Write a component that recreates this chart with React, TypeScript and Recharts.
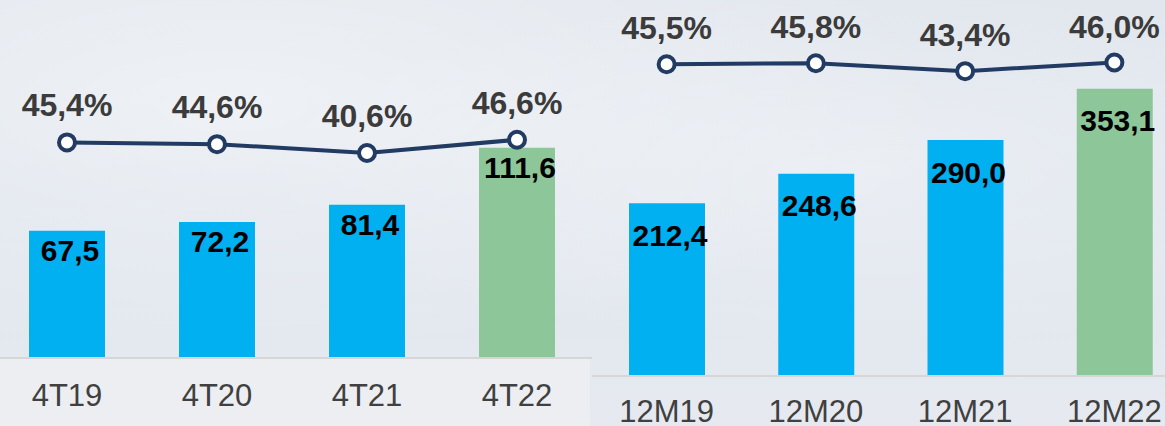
import { ComposedChart, Bar, Line, XAxis, YAxis, Cell, LabelList } from 'recharts'

const quarterCats = ['4T19', '4T20', '4T21', '4T22']
const quarterValues = [67.5, 72.2, 81.4, 111.6]
const quarterMargins = [45.4, 44.6, 40.6, 46.6]

const yearCats = ['12M19', '12M20', '12M21', '12M22']
const yearValues = [212.4, 248.6, 290.0, 353.1]
const yearMargins = [45.5, 45.8, 43.4, 46.0]

const BLUE = '#00b0f0'
const GREEN = '#8dc799'
const NAVY = '#223b63'
const FONT = '"Liberation Sans", Arial, sans-serif'

const fmt = (v: number) => v.toFixed(1).replace('.', ',')

interface PanelProps {
  cats: string[]
  values: number[]
  margins: number[]
  left: number
  width: number
  top: number
  bottom: number
  barDomain: [number, number]
  pctDomain: [number, number]
  valueDy: number
  pctDy: number
  tickDy: number
}

function Panel(p: PanelProps) {
  const data = p.cats.map((c, i) => ({ cat: c, value: p.values[i], pct: p.margins[i] }))

  const renderValue = (props: any) => {
    const { x, y, width, value } = props
    return (
      <text x={x + width / 2 + 3} y={y + p.valueDy} textAnchor="middle" dominantBaseline="central"
        style={{ fontFamily: FONT, fontSize: 30, fontWeight: 700, fill: '#000' }}>
        {fmt(value)}
      </text>
    )
  }

  const renderPct = (props: any) => {
    const { x, y, value } = props
    return (
      <text x={x} y={y - p.pctDy} textAnchor="middle" dominantBaseline="central"
        style={{ fontFamily: FONT, fontSize: 32, fontWeight: 700, fill: '#3b3b3b' }}>
        {fmt(value)}%
      </text>
    )
  }

  const renderTick = (props: any) => {
    const { x, y, payload } = props
    return (
      <text x={x} y={y + p.tickDy} textAnchor="middle" dominantBaseline="central"
        style={{ fontFamily: FONT, fontSize: 31, fill: '#404040' }}>
        {payload.value}
      </text>
    )
  }

  return (
    <div style={{ position: 'absolute', left: p.left, top: 0 }}>
      <ComposedChart width={p.width} height={426} data={data}
        margin={{ top: p.top, right: 0, left: 0, bottom: p.bottom }}>
        <XAxis dataKey="cat" axisLine={{ stroke: '#d6d6d6', strokeWidth: 2 }} tickLine={false}
          tickSize={0} tickMargin={0} interval={0} tick={renderTick} height={30} />
        <YAxis yAxisId="bar" hide domain={p.barDomain} />
        <YAxis yAxisId="pct" hide domain={p.pctDomain} orientation="right" />
        <Bar yAxisId="bar" dataKey="value" barSize={76} isAnimationActive={false}>
          {data.map((d, i) => (
            <Cell key={d.cat} fill={i === data.length - 1 ? GREEN : BLUE} />
          ))}
          <LabelList dataKey="value" content={renderValue} />
        </Bar>
        <Line yAxisId="pct" dataKey="pct" stroke={NAVY} strokeWidth={4} isAnimationActive={false}
          dot={{ r: 8, fill: '#fff', stroke: NAVY, strokeWidth: 4 }}>
          <LabelList dataKey="pct" content={renderPct} />
        </Line>
      </ComposedChart>
    </div>
  )
}

export default function App() {
  return (
    <div style={{
      position: 'absolute', left: 0, top: 0, width: 1165, height: 426, overflow: 'hidden',
      background: 'linear-gradient(180deg, #e2e7ee 0%, #dfe5ed 45%, #e6eaf0 100%)'
    }}>
      <div style={{
        position: 'absolute', left: 0, top: 0, width: 1165, height: 426,
        background: 'radial-gradient(ellipse at 20% 25%, rgba(255,255,255,0.45), rgba(255,255,255,0) 55%), radial-gradient(ellipse at 75% 40%, rgba(255,255,255,0.35), rgba(255,255,255,0) 50%)'
      }} />
      <div style={{ position: 'absolute', left: 0, top: 359, width: 590, height: 67, background: '#eceef2' }} />
      <Panel cats={quarterCats} values={quarterValues} margins={quarterMargins}
        left={-8} width={600} top={105} bottom={38}
        barDomain={[0, 134.3]} pctDomain={[-52.6, 62.4]}
        valueDy={20} pctDy={37} tickDy={37} />
      <Panel cats={yearCats} values={yearValues} margins={yearMargins}
        left={592} width={597} top={30} bottom={20}
        barDomain={[0, 425.3]} pctDomain={[-48.4, 55.8]}
        valueDy={32} pctDy={36} tickDy={35} />
    </div>
  )
}
